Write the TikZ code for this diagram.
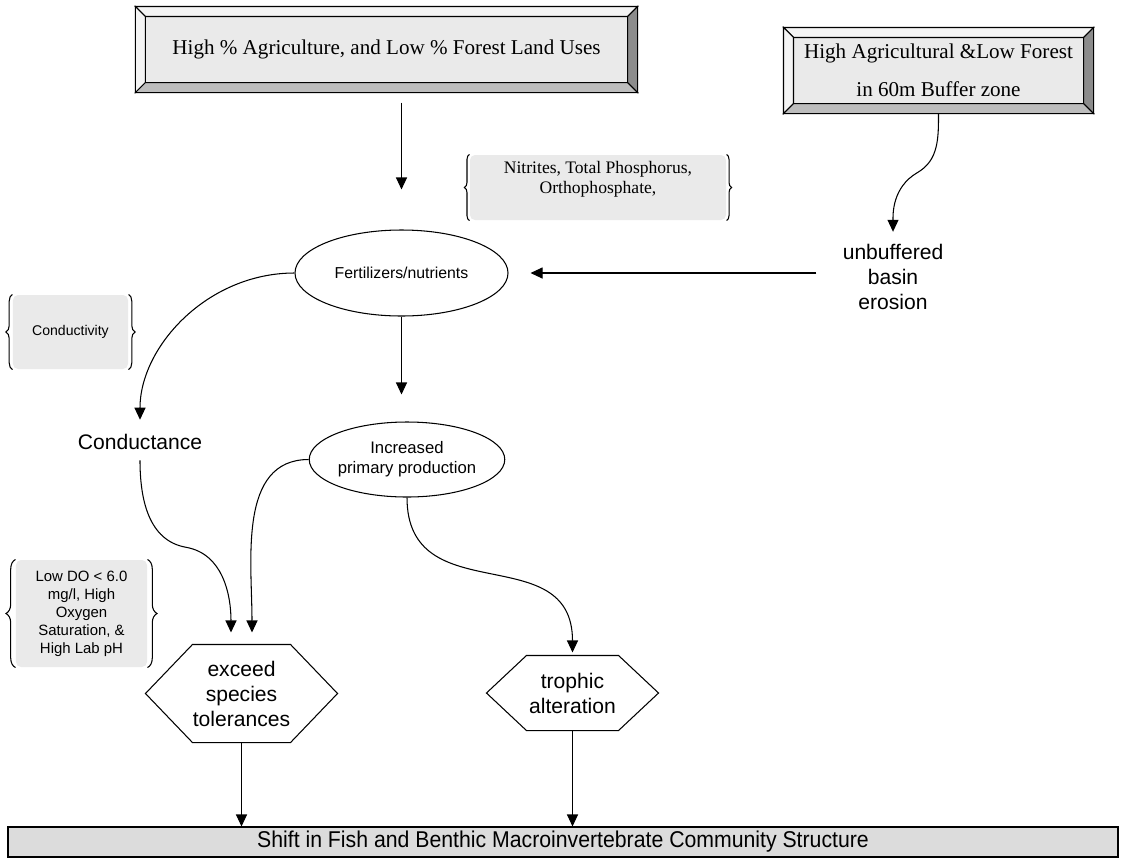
\documentclass[tikz,border=0pt]{standalone}
\usepackage{fontspec}
\setmainfont{Liberation Sans}
\newfontfamily\serifT{Liberation Serif}
\newfontfamily\narrowsans[FakeStretch=0.93]{Liberation Sans}
\usetikzlibrary{shapes.geometric,arrows.meta,decorations.pathreplacing,calc}
\definecolor{face}{HTML}{EAEAEA}
\definecolor{bevlight}{HTML}{F4F4F4}
\definecolor{bevmid}{HTML}{BDBDBD}
\definecolor{bevdark}{HTML}{8C8C8C}
\definecolor{barfill}{HTML}{DCDCDC}
\tikzset{
    bevel box/.style={rectangle, fill=face, inner sep=0pt, align=center,
        font=\serifT\fontsize{12}{21.6}\selectfont},
    brace box/.style={rectangle, rounded corners=1mm, fill=face, inner sep=0pt, align=center},
    oval/.style={ellipse, draw, fill=white, inner sep=0pt, align=center},
    hexa/.style={rectangle, inner sep=0pt, align=center, font=\fontsize{12}{14.2}\selectfont},
    plain/.style={inner sep=0pt, align=center, font=\fontsize{12}{14.2}\selectfont},
    arr/.style={-{Triangle[length=2.4mm,width=2.2mm]}},
    bracedeco/.style={decorate, line width=0.6pt}
}

\begin{document}
\begin{tikzpicture}[x=0.2mm, y=0.2mm, line width=0.6pt]
        \useasboundingbox (0,0) rectangle (1126,-861);
        %land use boxes
        \node[bevel box, minimum width=100.2mm, minimum height=17mm](agri) at (386.5,-49.5)
            {High \% Agriculture, and Low \% Forest Land Uses};
        \node[bevel box, minimum width=61.8mm, minimum height=17mm](buffer) at (938.5,-70.5)
            {High Agricultural \&Low Forest\\in 60m Buffer zone};
        \foreach \b in {agri,buffer}{
            \filldraw[fill=bevlight] (\b.north west) -- (\b.north east)
                -- ([shift={(-2mm,-2mm)}]\b.north east) -- ([shift={(2mm,-2mm)}]\b.north west) -- cycle;
            \filldraw[fill=bevlight] (\b.north west) -- ([shift={(2mm,-2mm)}]\b.north west)
                -- ([shift={(2mm,2mm)}]\b.south west) -- (\b.south west) -- cycle;
            \filldraw[fill=bevmid] (\b.south west) -- ([shift={(2mm,2mm)}]\b.south west)
                -- ([shift={(-2mm,2mm)}]\b.south east) -- (\b.south east) -- cycle;
            \filldraw[fill=bevdark] (\b.south east) -- ([shift={(-2mm,2mm)}]\b.south east)
                -- ([shift={(-2mm,-2mm)}]\b.north east) -- (\b.north east) -- cycle;
        }

        %parameter boxes
        \node[brace box, minimum width=51.2mm, minimum height=13mm,
            font=\serifT\fontsize{10}{11.4}\selectfont](nitr) at (598,-187.5)
            {Nitrites, Total Phosphorus,\\ Orthophosphate,\\ \mbox{}};
        \node[brace box, minimum width=23mm, minimum height=14.8mm,
            font=\fontsize{8}{9.6}\selectfont](condy) at (70.5,-332) {Conductivity};
        \node[brace box, minimum width=26.2mm, minimum height=21.4mm,
            font=\fontsize{8.5}{10.25}\selectfont](lowdo) at (81.5,-613.5)
            {Low DO < 6.0\\ mg/l, High\\ Oxygen\\ Saturation, \&\\ High Lab pH};
        \foreach \b/\a in {nitr/1mm, condy/1.3mm, lowdo/1.9mm}{
            \draw[bracedeco, decoration={brace, amplitude=\a}] (\b.south west) -- (\b.north west);
            \draw[bracedeco, decoration={brace, amplitude=\a}] (\b.north east) -- (\b.south east);
        }

        %processes
        \node[oval, minimum width=42.6mm, minimum height=17.2mm,
            font=\fontsize{9}{11}\selectfont](fert) at (401.5,-273) {Fertilizers/nutrients};
        \node[oval, minimum width=36mm, minimum height=15mm,
            font=\fontsize{9.5}{11.4}\selectfont](incr) at (407,-459.5) {Increased\\primary production};
        \node[plain](eros) at (893,-277) {unbuffered\\basin\\erosion};
        \node[plain](condu) at (140,-442) {Conductance};

        %effects
        \node[hexa, minimum width=38.2mm, minimum height=19.4mm](exc) at (241.5,-693.5)
            {exceed\\species\\tolerances};
        \node[hexa, minimum width=34.2mm, minimum height=14.8mm](troph) at (572.5,-693)
            {trophic\\alteration};
        \foreach \h/\d in {exc/9.4mm, troph/8mm}
            \draw (\h.west) -- ([xshift=\d]\h.north west) -- ([xshift=-\d]\h.north east)
                -- (\h.east) -- ([xshift=-\d]\h.south east) -- ([xshift=\d]\h.south west) -- cycle;
        \node[draw, fill=barfill, minimum width=222mm, minimum height=6mm, inner sep=0pt,
            font=\narrowsans\fontsize{13}{15}\selectfont](shift) at (563,-842)
            {Shift in Fish and Benthic Macroinvertebrate Community Structure};

        %connectors
        \draw[arr] ([yshift=-2mm]agri.south -| fert.north) -- ([yshift=8mm]fert.north);
        \draw[arr] (fert.south) -- ([yshift=5.4mm]fert.south |- incr.north);
        \draw[arr] ([xshift=-5.2mm]eros.west |- fert.east) -- ([xshift=4.4mm]fert.east);
        \draw[arr, shorten >=2.4mm] (buffer.south) to[out=-90,in=30] ++(-21,-59)
            to[out=210,in=90] (eros.north);
        \draw[arr, shorten >=2.8mm] (fert.west) to[out=180,in=90] (condu.north);
        \draw[arr] ([yshift=-2mm]condu.south) to[out=-90,in=170] ++(46,-87)
            to[out=-10,in=90] ([xshift=-2.1mm,yshift=2.4mm]exc.north);
        \draw[arr] (incr.west) to[out=180,in=90] ([xshift=2.1mm,yshift=2.4mm]exc.north);
        \draw[arr] (incr.south) to[out=-90,in=90,looseness=1.3] ([yshift=0.6mm]troph.north);
        \draw[arr] (exc.south) -- (exc.south |- shift.north);
        \draw[arr] (troph.south) -- (troph.south |- shift.north);
\end{tikzpicture}
\end{document}
